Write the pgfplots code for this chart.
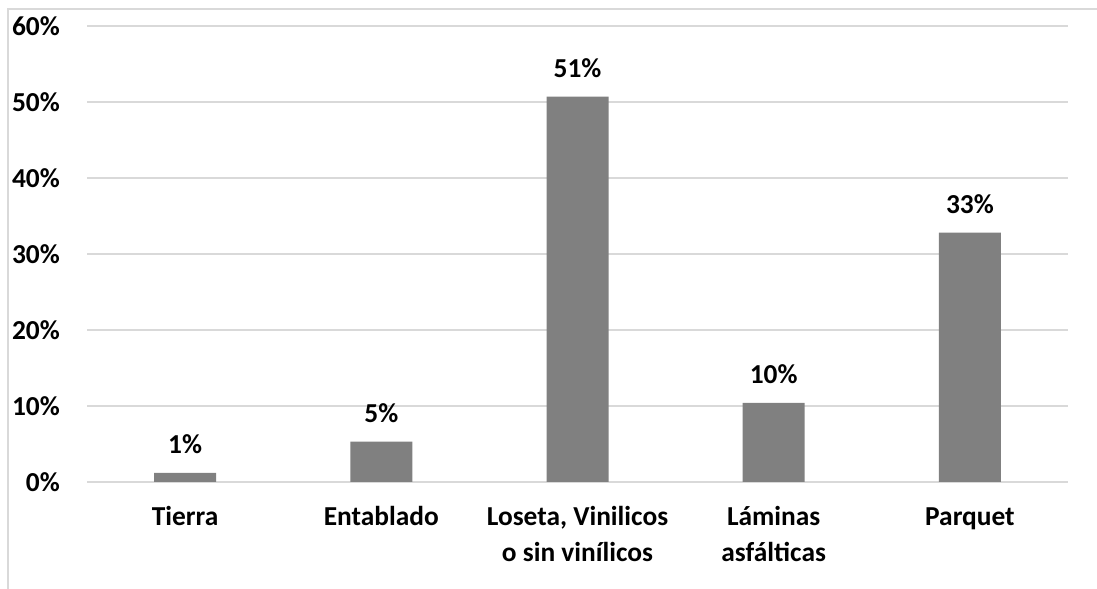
\documentclass[border=0pt]{standalone}
\usepackage{fontspec}
\setmainfont{Carlito}
\usepackage{pgfplots}
\pgfplotsset{compat=1.18}
\definecolor{gridgray}{HTML}{D9D9D9}
\definecolor{bargray}{HTML}{808080}
\newcommand{\hs}{\vphantom{Ál}}
\begin{document}
\begin{tikzpicture}
\useasboundingbox (0,0) rectangle (1097bp,589bp);
\draw[gridgray, line width=1.5bp] (8bp,0) -- (8bp,580bp) -- (1097bp,580bp);
\begin{axis}[
  at={(87bp,107bp)}, anchor=south west,
  scale only axis, width=981bp, height=456bp,
  xmin=-0.5, xmax=4.5, ymin=0, ymax=60,
  axis line style={draw=none},
  major tick length=0pt,
  ytick={0,10,...,60}, xtick={0,...,4},
  xticklabels={\hs Tierra, \hs Entablado, {\hs Loseta, Vinilicos\\o sin vinílicos}, {\hs Láminas\\asfálticas}, \hs Parquet},
  yticklabel={\pgfmathprintnumber{\tick}\%},
  /pgf/number format/assume math mode=true,
  ymajorgrids, grid style={gridgray, line width=1.2bp},
  xticklabel style={font=\fontsize{27.5}{36}\selectfont\bfseries, align=center, anchor=north, inner sep=0pt, yshift=-20bp},
  yticklabel style={font=\fontsize{27.5}{31}\selectfont\bfseries, anchor=east, inner sep=0pt, xshift=-27bp},
  ybar, bar width=62bp,
  point meta=y,
  nodes near coords={\pgfmathprintnumber[fixed,precision=0]{\pgfplotspointmeta}\%},
  nodes near coords style={font=\fontsize{27.5}{31}\selectfont\bfseries, anchor=base, inner sep=0pt, yshift=19bp},
]
\addplot[fill=bargray, draw=none] coordinates {(0,1.2) (1,5.3) (2,50.7) (3,10.4) (4,32.8)};
\end{axis}
\end{tikzpicture}
\end{document}
